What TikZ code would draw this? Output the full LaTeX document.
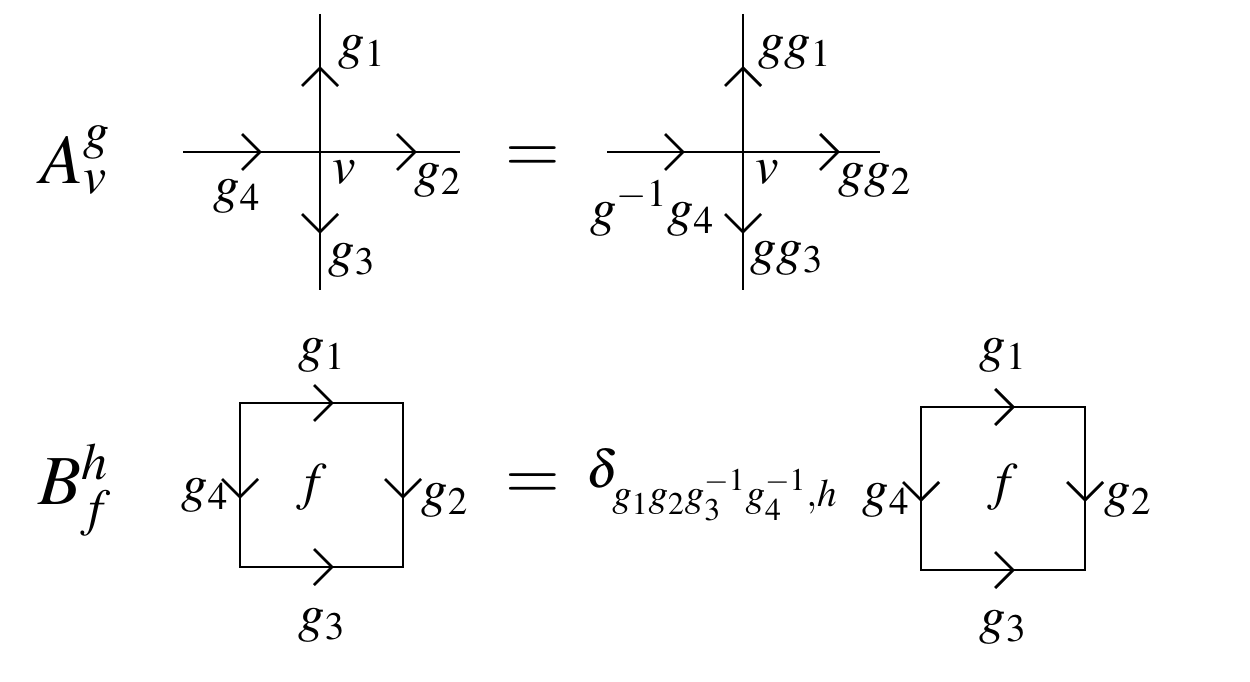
\documentclass[tikz,border=0pt]{standalone}
\usepackage{mathptmx}
\tikzset{ln/.style={line width=1.6pt},
 lab/.style={font=\fontsize{30}{34}\selectfont, inner sep=0pt},
 big/.style={font=\fontsize{40}{44}\selectfont, inner sep=0pt}}
\newcommand\chR[2]{\draw[ln] (#1-18,#2-18) -- (#1,#2) -- (#1-18,#2+18);}
\newcommand\chU[2]{\draw[ln] (#1-18,#2+18) -- (#1,#2) -- (#1+18,#2+18);}
\newcommand\chD[2]{\draw[ln] (#1-18,#2-18) -- (#1,#2) -- (#1+18,#2-18);}
\begin{document}
\begin{tikzpicture}[x=0.02cm,y=-0.02cm]
\useasboundingbox (0,0) rectangle (1250,682);
% top left
\draw[ln] (183,152) -- (460,152); \draw[ln] (320,14) -- (320,290);
\chR{260}{152} \chR{415}{152} \chU{320}{68} \chD{320}{232}
\node[big] (A) at (75,160) {$A_v^g$};
\node[lab] (a1) at (362,52) {$g_1$};
\node[lab] (av) at (344,172) {$v$};
\node[lab] (a2) at (438,180) {$g_2$};
\node[lab] (a4) at (237,196) {$g_4$};
\node[lab] (a3) at (352,260) {$g_3$};
\node[big] (e1) at (533,160) {$=$};
% top right
\draw[ln] (607,152) -- (880,152); \draw[ln] (743,14) -- (743,290);
\chR{683}{152} \chR{838}{152} \chU{743}{68} \chD{743}{232}
\node[lab] (b1) at (795,52) {$gg_1$};
\node[lab] (bv) at (767,172) {$v$};
\node[lab] (b2) at (875,180) {$gg_2$};
\node[lab] (b4) at (652,208) {$g^{-1}g_4$};
\node[lab] (b3) at (787,258) {$gg_3$};
% bottom left
\draw[ln] (240,403) rectangle (403,567);
\chR{332}{403} \chR{332}{567} \chD{240}{497} \chD{403}{497}
\node[big] (B) at (75,490) {$B_f^h$};
\node[lab] (c1) at (322,355) {$g_1$};
\node[lab] (c3) at (322,625) {$g_3$};
\node[lab] (c4) at (205,495) {$g_4$};
\node[lab] (c2) at (445,500) {$g_2$};
\node[lab] (cf) at (312,487) {$f$};
\node[big] (e2) at (533,487) {$=$};
\node[lab] (d) at (712,485) {$\delta_{g_1g_2g_3^{-1}g_4^{-1},h}$};
% bottom right
\draw[ln] (921,407) rectangle (1085,570);
\chR{1013}{407} \chR{1013}{570} \chD{921}{500} \chD{1085}{500}
\node[lab] (r1) at (1003,355) {$g_1$};
\node[lab] (r3) at (1003,627) {$g_3$};
\node[lab] (r4) at (886,500) {$g_4$};
\node[lab] (r2) at (1128,500) {$g_2$};
\node[lab] (rf) at (1003,487) {$f$};
\end{tikzpicture}
\end{document}
